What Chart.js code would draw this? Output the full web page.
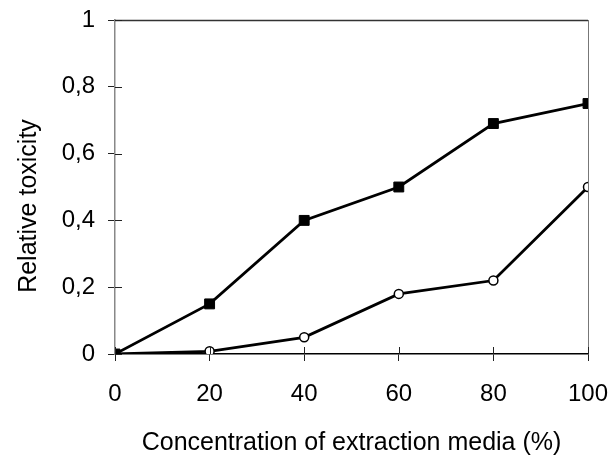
<!DOCTYPE html>
<html>
<head>
<meta charset="utf-8">
<script src="https://cdn.jsdelivr.net/npm/chart.js@4.4.0/dist/chart.umd.min.js"></script>
<style>
  html, body { margin: 0; padding: 0; background: #fff; }
  #wrap { width: 610px; height: 458px; }
</style>
</head>
<body>
<div id="wrap"><canvas id="c" width="610" height="458"></canvas></div>
<script>
// concentration of extraction media (%)
const concentrations = [0, 20, 40, 60, 80, 100];
// relative toxicity, filled squares
const toxicitySquares = [0, 0.15, 0.40, 0.50, 0.69, 0.75];
// relative toxicity, open circles
const toxicityCircles = [0, 0.008, 0.05, 0.18, 0.22, 0.50];

const xTicks = [0, 20, 40, 60, 80, 100];
const yTicks = [0, 0.2, 0.4, 0.6, 0.8, 1];
const yTitle = 'Relative toxicity';

const FAMILY = "'Liberation Sans', Arial, sans-serif";
const TICK_FONT = { family: FAMILY, size: 24 };
const TITLE_FONT = { family: FAMILY, size: 25 };
const TICK_LEN = 7;

const toPoints = (ys) => concentrations.map((x, i) => ({ x, y: ys[i] }));

// box lines on top/right, inner half of the tick marks, y title
const frame = {
  id: 'frame',
  afterDatasetsDraw(chart) {
    const { ctx, chartArea: a, scales } = chart;
    ctx.save();
    ctx.lineWidth = 1.5;
    ctx.strokeStyle = '#333';
    ctx.beginPath();
    ctx.moveTo(a.left, a.top + 0.5);
    ctx.lineTo(a.right, a.top + 0.5);
    ctx.stroke();
    ctx.strokeStyle = '#777';
    ctx.lineWidth = 1;
    ctx.beginPath();
    ctx.moveTo(a.right + 0.5, a.top);
    ctx.lineTo(a.right + 0.5, a.bottom);
    ctx.stroke();
    ctx.strokeStyle = '#222';
    ctx.beginPath();
    for (const t of yTicks) {
      const y = Math.round(scales.y.getPixelForValue(t)) + 0.5;
      ctx.moveTo(a.left, y);
      ctx.lineTo(a.left + TICK_LEN, y);
    }
    for (const t of xTicks) {
      const x = Math.round(scales.x.getPixelForValue(t)) + 0.5;
      ctx.moveTo(x, a.bottom);
      ctx.lineTo(x, a.bottom - TICK_LEN);
    }
    ctx.stroke();

    // y axis title, sits a bit below the plot centre like the original
    ctx.translate(29, 206);
    ctx.rotate(-Math.PI / 2);
    ctx.fillStyle = '#000';
    ctx.font = `${TITLE_FONT.size}px ${FAMILY}`;
    ctx.textAlign = 'center';
    ctx.textBaseline = 'middle';
    ctx.fillText(yTitle, 0, 0);
    ctx.restore();
  }
};

new Chart(document.getElementById('c'), {
  type: 'line',
  data: {
    datasets: [
      {
        label: 'squares',
        data: toPoints(toxicitySquares),
        borderColor: '#000',
        backgroundColor: '#000',
        borderWidth: 2.8,
        pointStyle: 'rect',
        pointRadius: 7,
        pointBorderWidth: 1,
        tension: 0,
      },
      {
        label: 'circles',
        data: toPoints(toxicityCircles),
        borderColor: '#000',
        backgroundColor: '#fff',
        borderWidth: 2.8,
        pointStyle: 'circle',
        pointRadius: 4.5,
        pointBorderWidth: 1.5,
        tension: 0,
      },
    ],
  },
  options: {
    responsive: false,
    animation: false,
    layout: { padding: { top: 20, right: 22, left: 0, bottom: 0 } },
    plugins: { legend: { display: false }, tooltip: { enabled: false } },
    scales: {
      x: {
        type: 'linear',
        min: 0,
        max: 100,
        afterBuildTicks: (s) => { s.ticks = xTicks.map(v => ({ value: v })); },
        afterFit: (s) => { s.height = 104; s.paddingLeft = 0; s.paddingRight = 0; },
        grid: { drawOnChartArea: false, tickLength: TICK_LEN, color: '#222', lineWidth: 1 },
        border: { color: '#000', width: 1.5 },
        ticks: { color: '#000', font: TICK_FONT, padding: 19, maxRotation: 0 },
        title: {
          display: true,
          text: 'Concentration of extraction media (%)',
          color: '#000',
          font: TITLE_FONT,
          padding: { top: 0, bottom: 0 },
        },
      },
      y: {
        type: 'linear',
        min: 0,
        max: 1,
        afterBuildTicks: (s) => { s.ticks = yTicks.map(v => ({ value: v })); },
        afterFit: (s) => { s.width = 115; s.paddingTop = 0; s.paddingBottom = 0; },
        grid: { drawOnChartArea: false, tickLength: TICK_LEN, color: '#222', lineWidth: 1 },
        border: { color: '#888', width: 1.5 },
        ticks: {
          color: '#000',
          font: TICK_FONT,
          padding: 13,
          callback: (v) => String(v).replace('.', ','),
        },
      },
    },
  },
  plugins: [frame],
});
</script>
</body>
</html>
